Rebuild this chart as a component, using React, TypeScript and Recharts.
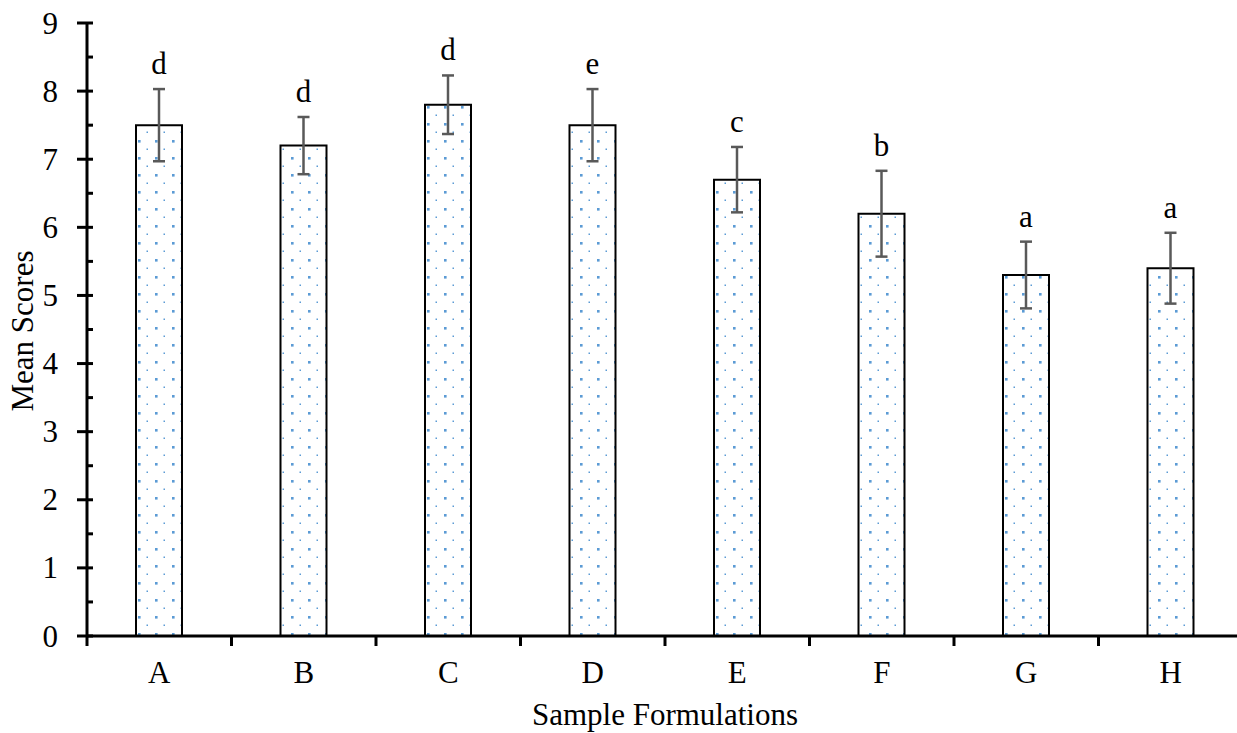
import { BarChart, Bar, XAxis, YAxis, ErrorBar, LabelList } from 'recharts'

const categories = ['A', 'B', 'C', 'D', 'E', 'F', 'G', 'H']
const means      = [7.5, 7.2, 7.8, 7.5, 6.7, 6.2, 5.3, 5.4]
const errors     = [0.53, 0.42, 0.43, 0.53, 0.48, 0.63, 0.49, 0.52]
const letters    = ['d', 'd', 'd', 'e', 'c', 'b', 'a', 'a']
const yTicks     = [0, 0.5, 1, 1.5, 2, 2.5, 3, 3.5, 4, 4.5, 5, 5.5, 6, 6.5, 7, 7.5, 8, 8.5, 9]

const serif = '"Liberation Serif", "Times New Roman", serif'
const FONT = 31

const CHART_W = 1245
const CHART_H = 733
const AXIS_X = 87
const AXIS_Y = 636
const PLOT_RIGHT = CHART_W - 2
const BAND = (PLOT_RIGHT - AXIS_X) / categories.length

const data = categories.map((c, i) => ({ name: c, mean: means[i], err: errors[i], letter: letters[i] }))

function YTick(props: any) {
  const { y, payload } = props
  const major = Number.isInteger(payload.value)
  return (
    <g>
      <line x1={major ? AXIS_X - 10 : AXIS_X} x2={AXIS_X + 6} y1={y} y2={y} stroke="#000" strokeWidth={3} />
      {major && (
        <text x={58} y={y} dy="0.34em" textAnchor="end" fontFamily={serif} fontSize={FONT} fill="#000">
          {payload.value}
        </text>
      )}
    </g>
  )
}

function XTick(props: any) {
  const { x, payload } = props
  const left = x - BAND / 2
  return (
    <g>
      <line x1={left} x2={left} y1={AXIS_Y} y2={AXIS_Y + 10} stroke="#000" strokeWidth={3} />
      <text x={x} y={683} textAnchor="middle" fontFamily={serif} fontSize={FONT} fill="#000">
        {payload.value}
      </text>
    </g>
  )
}

function LetterLabel(props: any) {
  const { x, y, width, height, index } = props
  const pxPerUnit = height / means[index]
  const top = y - errors[index] * pxPerUnit
  return (
    <text x={x + width / 2} y={top - 15} textAnchor="middle" fontFamily={serif} fontSize={FONT} fill="#000">
      {letters[index]}
    </text>
  )
}

export default function App() {
  return (
    <div style={{ width: 1237, height: 733, overflow: 'hidden', background: '#fff' }}>
      <style>{'body{margin:0}'}</style>
      <BarChart width={CHART_W} height={CHART_H} data={data} margin={{ top: 23, right: 2, bottom: 0, left: 0 }} barSize={46}>
        <defs>
          <pattern id="dots" width={17} height={17} patternUnits="userSpaceOnUse" x={2} y={4}>
            <rect width={17} height={17} fill="#fff" />
            <rect x={0} y={0} width={2.6} height={2.6} fill="#5B9BD5" />
            <rect x={8.5} y={8.5} width={1.5} height={1.5} fill="#5B9BD5" />
          </pattern>
        </defs>
        <YAxis
          width={AXIS_X}
          domain={[0, 9]}
          ticks={yTicks}
          interval={0}
          tickLine={false}
          axisLine={{ stroke: '#000', strokeWidth: 3 }}
          tick={<YTick />}
          label={{
            content: () => (
              <text x={33} y={331} transform="rotate(-90 33 331)" textAnchor="middle" fontFamily={serif} fontSize={FONT} fill="#000">
                Mean Scores
              </text>
            ),
          }}
        />
        <XAxis
          dataKey="name"
          height={CHART_H - AXIS_Y}
          interval={0}
          tickLine={false}
          axisLine={{ stroke: '#000', strokeWidth: 3 }}
          tick={<XTick />}
          label={{
            content: () => (
              <text x={(AXIS_X + PLOT_RIGHT) / 2} y={725} textAnchor="middle" fontFamily={serif} fontSize={FONT} fill="#000">
                Sample Formulations
              </text>
            ),
          }}
        />
        <Bar dataKey="mean" fill="url(#dots)" stroke="#000" strokeWidth={2} isAnimationActive={false}>
          <ErrorBar dataKey="err" width={6} stroke="#595959" strokeWidth={2.5} isAnimationActive={false} />
          <LabelList dataKey="letter" content={<LetterLabel />} />
        </Bar>
      </BarChart>
    </div>
  )
}
